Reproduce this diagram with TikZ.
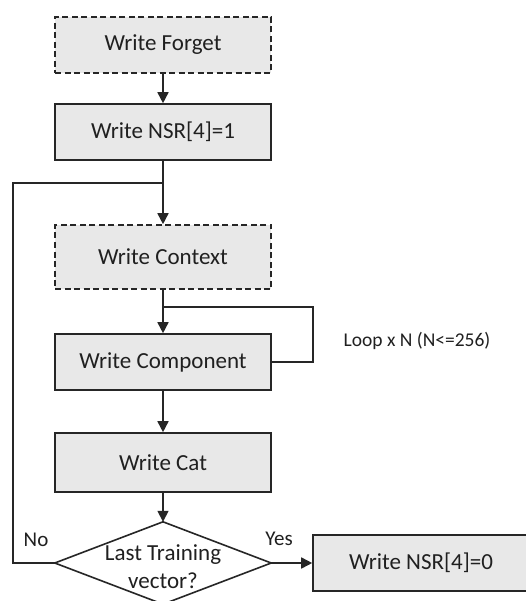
\documentclass[tikz,border=0pt]{standalone}
\usepackage{fontspec}
\setmainfont{Carlito}
\usetikzlibrary{arrows.meta}
\definecolor{boxfill}{HTML}{E8E8E8}
\definecolor{txt}{HTML}{202020}
\begin{document}
\begin{tikzpicture}[x=1pt,y=-1pt,
  box/.style={draw=black!85,fill=boxfill,line width=1.6pt,minimum width=216pt,inner sep=0pt,
    font=\fontsize{23}{28}\selectfont,text=txt},
  dbox/.style={box,dash pattern=on 6pt off 3.5pt},
  conn/.style={draw=black!85,line width=1.6pt},
  arr/.style={conn,-{Triangle[length=11pt,width=11pt]}},
  lbl/.style={font=\fontsize{21}{24}\selectfont,text=txt,inner sep=0pt},
  small/.style={font=\fontsize{19.5}{22}\selectfont,text=txt,inner sep=0pt}]
\clip (0,0) rectangle (526,601);
\fill[white] (0,0) rectangle (526,601);
\node[dbox,minimum height=56pt] (forget) at (163,45) {Write Forget};
\node[box,minimum height=56pt] (nsr1) at (163,132) {Write NSR[4]=1};
\node[dbox,minimum height=64pt] (context) at (163,257) {Write Context};
\node[box,minimum height=56pt] (comp) at (163,362) {Write Component};
\node[box,minimum height=59pt] (cat) at (163,462.5) {Write Cat};
\node[minimum width=216pt,minimum height=82pt,inner sep=0pt] (dec) at (163,563) {};
\draw[conn,fill=white] (dec.west) -- (dec.north) -- (dec.east) -- (dec.south) -- cycle;
\node[font=\fontsize{23}{28}\selectfont,text=txt,align=center,inner sep=0pt] (dectext) at (163,567) {Last Training\\vector?};
\node[box,minimum height=56pt] (nsr0) at (421,563) {Write NSR[4]=0};
\coordinate (j1) at (163,183);
\coordinate (j2) at (163,307);
\coordinate (lb) at (13,563);
\coordinate (lt) at (13,183);
\coordinate (rb) at (313,362);
\coordinate (rt) at (313,307);
\draw[arr] (forget.south) -- (nsr1.north);
\draw[arr] (nsr1.south) -- (j1) -- (context.north);
\draw[conn] (dec.west) -- (lb) -- (lt) -- (j1);
\draw[arr] (context.south) -- (j2) -- (comp.north);
\draw[conn] (comp.east) -- (rb) -- (rt) -- (j2);
\draw[arr] (comp.south) -- (cat.north);
\draw[arr] (cat.south) -- (dec.north);
\draw[arr] (dec.east) -- (nsr0.west);
\node[small] (loop) at (417,341) {Loop x N (N<=256)};
\node[lbl] (no) at (36,540) {No};
\node[lbl] (yes) at (279,539) {Yes};
\end{tikzpicture}
\end{document}
